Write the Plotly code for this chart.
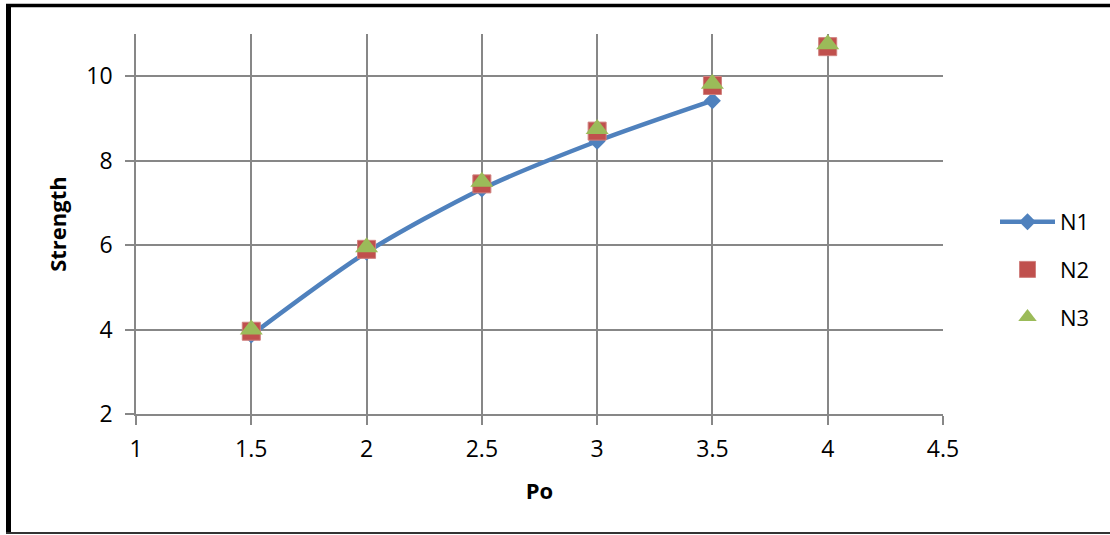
import plotly.graph_objects as go

# Data
po = [1.5, 2.0, 2.5, 3.0, 3.5, 4.0]
n1_po = [1.5, 2.0, 2.5, 3.0, 3.5]
n1 = [3.87, 5.83, 7.33, 8.46, 9.42]
n2 = [3.96, 5.90, 7.45, 8.70, 9.78, 10.70]
n3 = [4.00, 5.95, 7.50, 8.75, 9.82, 10.76]
x_ticks = [1, 1.5, 2, 2.5, 3, 3.5, 4, 4.5]
y_ticks = [2, 4, 6, 8, 10]

W, H = 1110, 535
ML, MR, MT, MB = 136, 167, 34, 121
PW, PH = W - ML - MR, H - MT - MB

FONT = "Open Sans, Lato, Liberation Sans, sans-serif"
GRID = "#878787"

fig = go.Figure()
fig.add_trace(go.Scatter(
    x=n1_po, y=n1, name="N1", mode="lines+markers", legendgroup="a",
    line=dict(color="#4F81BD", width=4.5, shape="spline", smoothing=0.8),
    marker=dict(symbol="diamond", size=13, color="#4F81BD"),
))
fig.add_trace(go.Scatter(
    x=po, y=n2, name="N2", mode="markers", legendgroup="b",
    marker=dict(symbol="square", size=18, color="#C0504D",
                line=dict(color="#D0807E", width=1)),
))
fig.add_trace(go.Scatter(
    x=po, y=n3, name="N3", mode="markers", legendgroup="c",
    marker=dict(symbol="triangle-up", size=20, color="#9BBB59"),
))


def px_x(p):
    return (p - ML) / PW


def px_y(p):
    return (H - MB - p) / PH


shapes = [
    # outer frame: top and left thick, bottom thin
    dict(type="line", xref="paper", yref="paper", x0=px_x(6), x1=px_x(W), y0=px_y(5.5), y1=px_y(5.5),
         line=dict(color="black", width=3.5)),
    dict(type="line", xref="paper", yref="paper", x0=px_x(8.5), x1=px_x(8.5), y0=px_y(4), y1=px_y(534),
         line=dict(color="black", width=5)),
    dict(type="line", xref="paper", yref="paper", x0=px_x(6), x1=px_x(W), y0=px_y(533), y1=px_y(533),
         line=dict(color="#333333", width=2)),
]

fig.update_layout(
    width=W, height=H,
    margin=dict(l=ML, r=MR, t=MT, b=MB),
    paper_bgcolor="white", plot_bgcolor="white",
    font=dict(family=FONT, size=22, color="black"),
    showlegend=True,
    legend=dict(x=px_x(995), y=px_y(201), xanchor="left", yanchor="top",
                font=dict(size=22), itemwidth=55, tracegroupgap=16,
                traceorder="grouped", bgcolor="rgba(0,0,0,0)"),
    shapes=shapes,
    xaxis=dict(
        range=[1, 4.5], tickvals=x_ticks, ticktext=[f"{v:g}" for v in x_ticks],
        tickfont=dict(size=23), ticklabelstandoff=5,
        showgrid=True, gridcolor=GRID, gridwidth=1.5,
        showline=True, linecolor=GRID, linewidth=1.5,
        ticks="outside", ticklen=9, tickcolor=GRID, tickwidth=1.5,
        zeroline=False, title=dict(text="<b>Po</b>", font=dict(size=22), standoff=20),
    ),
    yaxis=dict(
        range=[2, 11], tickvals=y_ticks, tickfont=dict(size=23), ticklabelstandoff=8,
        showgrid=True, gridcolor=GRID, gridwidth=1.5,
        showline=True, linecolor=GRID, linewidth=1.5,
        ticks="outside", ticklen=9, tickcolor=GRID, tickwidth=1.5,
        zeroline=False, title=dict(text="<b>Strength</b>", font=dict(size=22), standoff=14),
    ),
)

fig.write_html("out.html")
